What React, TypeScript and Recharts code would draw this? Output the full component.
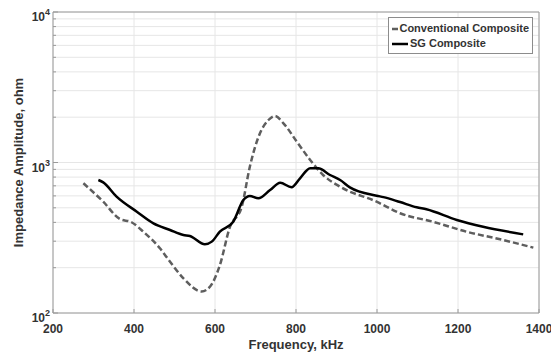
import { CartesianGrid, Label, Legend, Line, LineChart, XAxis, YAxis } from "recharts";

// values (kHz, ohm)
const convFreq = [275, 324, 365, 394, 423, 464, 489, 522, 567, 588, 612, 637, 666, 686, 711, 732, 748, 769, 802, 835, 867, 909, 999, 1057, 1138, 1221, 1304, 1386];
const convImp = [728, 549, 421, 401, 347, 269, 219, 170, 139, 150, 208, 374, 508, 938, 1563, 1916, 2037, 1822, 1375, 1039, 826, 690, 549, 460, 404, 347, 309, 272];

const sgFreq = [312, 324, 357, 407, 448, 489, 522, 538, 575, 592, 612, 645, 670, 686, 707, 736, 761, 789, 810, 835, 855, 884, 909, 933, 999, 1016, 1057, 1098, 1122, 1197, 1262, 1361];
const sgImp = [765, 738, 593, 471, 394, 356, 330, 325, 286, 298, 347, 404, 563, 599, 578, 656, 734, 684, 785, 915, 915, 826, 765, 684, 602, 589, 546, 504, 489, 415, 374, 333];

const xTicks = [200, 400, 600, 800, 1000, 1200, 1400];
const yMajor = [100, 1000, 10000];
const yMinor = [200, 300, 400, 500, 600, 700, 800, 900, 2000, 3000, 4000, 5000, 6000, 7000, 8000, 9000];

const conv = convFreq.map((f, i) => ({ f, z: convImp[i] }));
const sg = sgFreq.map((f, i) => ({ f, z: sgImp[i] }));
const yAll = [...yMajor, ...yMinor].sort((a, b) => a - b);

const TXT = "#333";
const FONT = "Liberation Sans, Arial, sans-serif";
const AX = "#9a9a9a";

const LeftTick = ({ x, y, payload }: any) => {
  const v = payload.value;
  const major = yMajor.includes(v);
  return (
    <g>
      <line x1={x} x2={x + (major ? 5 : 3)} y1={y} y2={y} stroke={AX} />
      {major && (
        <text x={x - 3} y={y + 9} textAnchor="end" fill={TXT} fontFamily={FONT} fontWeight="bold" fontSize={12}>
          10<tspan dy={-6} fontSize={9}>{Math.round(Math.log10(v))}</tspan>
        </text>
      )}
    </g>
  );
};

const RightTick = ({ x, y, payload }: any) => {
  const major = yMajor.includes(payload.value);
  return <line x1={x} x2={x - (major ? 5 : 3)} y1={y} y2={y} stroke={AX} />;
};

const BottomTick = ({ x, y, payload }: any) => (
  <g>
    <line x1={x} x2={x} y1={y} y2={y - 4} stroke={AX} />
    <text x={x} y={y + 20} textAnchor="middle" fill={TXT} fontFamily={FONT} fontWeight="bold" fontSize={12}>
      {payload.value}
    </text>
  </g>
);

const TopTick = ({ x, y }: any) => <line x1={x} x2={x} y1={y} y2={y + 4} stroke={AX} />;

const LegendBox = () => (
  <div
    style={{
      border: "1px solid #8c8c8c",
      background: "#fff",
      padding: "3px 3px 2px 2px",
      fontFamily: FONT,
      fontWeight: "bold",
      fontSize: 11,
      color: TXT,
      lineHeight: "15px",
      whiteSpace: "nowrap",
      width: 138,
    }}
  >
    <div style={{ display: "flex", alignItems: "center" }}>
      <svg width={18} height={8}>
        <line x1={1} x2={17} y1={4} y2={4} stroke="#5e5e5e" strokeWidth={2.5} strokeDasharray="6 3" />
      </svg>
      <span style={{ marginLeft: 1 }}>Conventional Composite</span>
    </div>
    <div style={{ display: "flex", alignItems: "center" }}>
      <svg width={18} height={8}>
        <line x1={1} x2={17} y1={4} y2={4} stroke="#000" strokeWidth={2.5} />
      </svg>
      <span style={{ marginLeft: 1 }}>SG Composite</span>
    </div>
  </div>
);

export default function App() {
  return (
    <div style={{ marginTop: -6 }}>
      <LineChart width={551} height={356} margin={{ top: 9, right: 19, left: 0, bottom: 5 }}>
        <CartesianGrid
          stroke="#e6e6e6"
          horizontalValues={yAll}
          verticalValues={xTicks}
          xAxisId="b"
          yAxisId="l"
        />
        <XAxis
          xAxisId="b"
          dataKey="f"
          type="number"
          domain={[200, 1400]}
          ticks={xTicks}
          allowDataOverflow
          tickSize={0}
          tickMargin={0}
          tick={<BottomTick />}
          tickLine={false}
          axisLine={{ stroke: AX }}
          height={40}
          interval={0}
        >
          <Label
            content={({ viewBox }: any) => (
              <text
                x={viewBox.x + viewBox.width / 2}
                y={347}
                textAnchor="middle"
                fill={TXT}
                fontFamily={FONT}
                fontWeight="bold"
                fontSize={13}
              >
                Frequency, kHz
              </text>
            )}
          />
        </XAxis>
        <XAxis
          xAxisId="t"
          orientation="top"
          dataKey="f"
          type="number"
          domain={[200, 1400]}
          ticks={xTicks}
          tickSize={0}
          tickMargin={0}
          tick={<TopTick />}
          tickLine={false}
          axisLine={{ stroke: AX }}
          height={1}
          interval={0}
        />
        <YAxis
          yAxisId="l"
          dataKey="z"
          type="number"
          scale="log"
          domain={[100, 10000]}
          ticks={yAll}
          allowDataOverflow
          tickSize={0}
          tickMargin={0}
          tick={<LeftTick />}
          tickLine={false}
          axisLine={{ stroke: AX }}
          width={45}
          interval={0}
        >
          <Label
            content={({ viewBox }: any) => (
              <text
                transform={`translate(15, ${viewBox.y + viewBox.height / 2}) rotate(-90)`}
                textAnchor="middle"
                fill={TXT}
                fontFamily={FONT}
                fontWeight="bold"
                fontSize={13}
              >
                Impedance Amplitude, ohm
              </text>
            )}
          />
        </YAxis>
        <YAxis
          yAxisId="r"
          orientation="right"
          type="number"
          scale="log"
          domain={[100, 10000]}
          ticks={yAll}
          tickSize={0}
          tickMargin={0}
          tick={<RightTick />}
          tickLine={false}
          axisLine={{ stroke: AX }}
          width={1}
          interval={0}
        />
        <Legend
          layout="vertical"
          align="center"
          verticalAlign="middle"
          content={<LegendBox />}
          wrapperStyle={{ position: "absolute", left: 380, top: 15, width: "auto" }}
        />
        <Line
          data={conv}
          xAxisId="b"
          yAxisId="l"
          dataKey="z"
          name="Conventional Composite"
          type="monotone"
          stroke="#5e5e5e"
          strokeWidth={2.5}
          strokeDasharray="6 3"
          dot={false}
          isAnimationActive={false}
        />
        <Line
          data={sg}
          xAxisId="b"
          yAxisId="l"
          dataKey="z"
          name="SG Composite"
          type="monotone"
          stroke="#000"
          strokeWidth={2.5}
          dot={false}
          isAnimationActive={false}
        />
      </LineChart>
    </div>
  );
}
